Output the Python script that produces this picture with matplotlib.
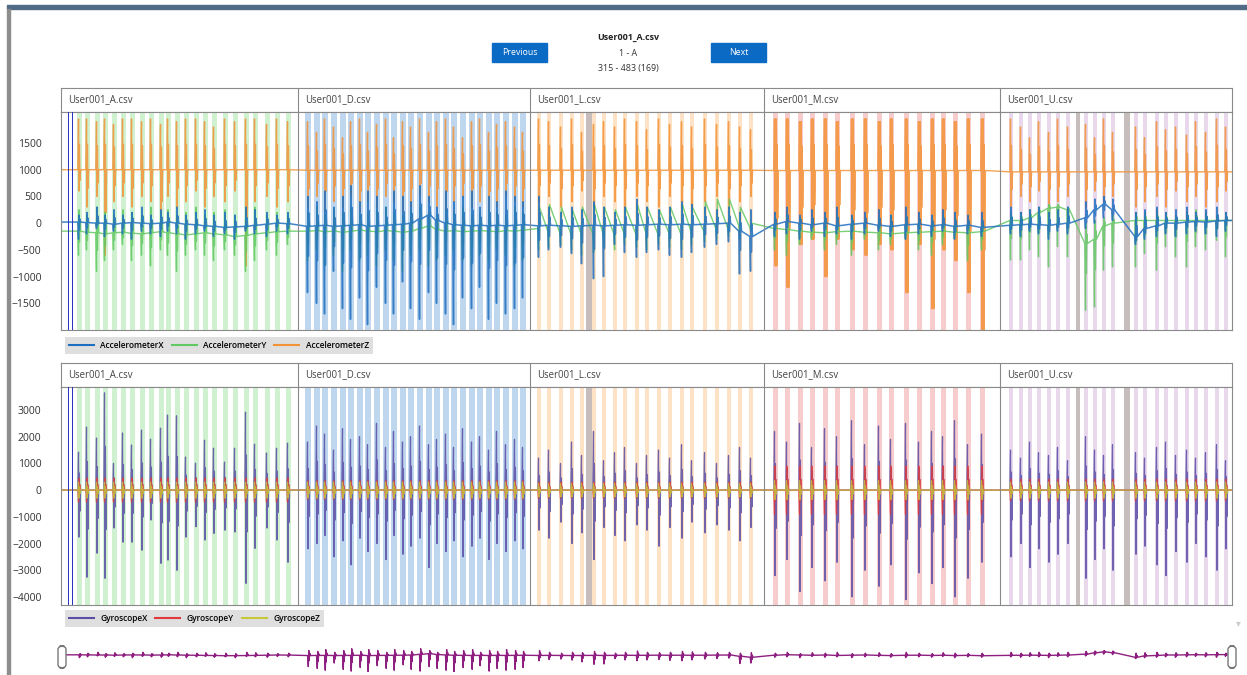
import matplotlib.pyplot as plt
from matplotlib.patches import Rectangle, FancyBboxPatch
from matplotlib.lines import Line2D

plt.rcParams['font.family'] = ['Open Sans', 'DejaVu Sans']

# files shown side by side, x in samples
FILES = ['User001_A.csv', 'User001_D.csv', 'User001_L.csv', 'User001_M.csv', 'User001_U.csv']
BOUNDS = [0, 237, 469, 703, 939, 1171]

# key press windows (centre sample) per file
POS = [
    [18, 26, 36, 44, 53, 62, 71, 81, 90, 100, 107, 116, 125, 135, 144, 153, 164, 174, 185, 194, 206, 216, 227],
    [247, 256, 264, 273, 282, 290, 299, 307, 316, 325, 333, 342, 350, 359, 368, 376, 385, 393, 402, 411, 419, 428, 436, 445, 454, 462],
    [478, 488, 500, 511, 521, 533, 543, 554, 564, 576, 586, 598, 609, 621, 631, 644, 656, 668, 679, 690],
    [714, 726, 739, 751, 764, 776, 791, 804, 818, 830, 845, 858, 871, 882, 894, 907, 921],
    [950, 960, 969, 978, 988, 997, 1007, 1025, 1034, 1043, 1052, 1075, 1084, 1096, 1105, 1115, 1126, 1135, 1145, 1156, 1165],
]
MARKED = [(6.5, 8), (10.5, 12)]            # selected rows
GREY = [(525, 531), (1015, 1019), (1063, 1069)]

# accelerometer
AZ_BASE = [1000, 990, 990, 985, 960]
AZ_HI = [
    [1950, 1950, 1900, 1950, 1850, 1950, 1950, 1900, 1950, 1850, 1950, 1900, 1950, 1950, 1900, 1800, 1950, 1900, 1950, 1950, 1850, 1950, 1900],
    [1900, 1700, 1950, 1800, 1600, 1900, 1950, 1700, 1850, 1950, 1600, 1900, 1800, 1950, 1700, 1900, 1950, 1800, 1600, 1900, 1950, 1700, 1850, 1900, 1800, 1700],
    [1950, 1900, 1800, 1950, 1700, 1850, 1900, 1800, 1950, 1900, 1750, 1950, 1850, 1900, 1800, 1950, 1850, 1900, 1800, 1750],
    [1950, 1950, 1900, 1950, 1950, 1900, 1950, 1950, 1900, 1950, 1950, 1900, 1950, 1950, 1900, 1950, 1950],
    [1950, 1800, 1600, 1900, 1700, 1950, 1800, 1850, 1600, 1950, 1700, 1800, 1600, 1900, 1750, 1800, 1650, 1900, 1700, 1950, 1800],
]
AZ_LO = [
    [600, 300, 500, -600, 400, 500, 300, 500, 400, -200, 500, 300, 400, 600, 300, 500, 400, 600, -800, 400, 500, 300, 400],
    [300, 500, 200, 400, 300, 500, 200, 400, 300, 500, 400, 200, 300, 500, 400, 300, 200, 400, 500, 300, 400, 200, 300, 500, 400, 300],
    [400, 500, 300, 400, 600, 300, 500, 400, 300, 500, 400, 300, 500, 400, 300, 400, 500, 300, 400, 500],
    [-800, -1200, -400, -300, -1000, -300, -500, -600, -400, -500, -1300, -400, -1600, -500, -700, -1300, -2000],
    [300, 500, 400, 600, 300, 400, 500, 300, 600, 400, 500, 300, 400, 500, 300, 600, 400, 500, 300, 400, 600],
]
AX_BASE = [
    [20, 10, 0, 0, -20, 0, 10, 0, -10, 0, 20, 0, -20, -30, -50, -60, -80, -70, -60, -40, -20, 0, -10],
    [-60, -50, -40, -60, -50, -40, -30, -60, -50, -40, -30, -20, 0, 80, 150, 50, 0, -30, -40, -50, -40, -50, -40, -50, -40, -30],
    [-50, -40, -50, -60, -50, -40, -50, -40, -30, -40, -30, -20, -30, -20, -30, -20, -10, 0, -150, -250],
    [-20, 30, 0, -30, 0, -50, -20, 0, -40, -60, -30, -20, -50, -30, -60, -40, -80],
    [-40, -30, -20, -30, -40, -20, 0, 100, 250, 350, 250, -250, -100, -50, 0, 0, 20, 30, 20, 40, 50],
]
AX_HI = [
    [150, 200, 300, 150, 250, 150, 200, 300, 150, 250, 200, 300, 150, 200, 250, 150, 200, 150, 300, 250, 200, 150, 200],
    [500, 400, 600, 300, 500, 700, 400, 600, 500, 300, 600, 500, 400, 700, 500, 300, 600, 400, 500, 600, 300, 500, 400, 600, 500, 400],
    [500, 300, 200, 300, 250, 400, 300, 200, 300, 450, 300, 250, 300, 400, 350, 300, 250, 300, 200, 250],
    [200, 300, 150, 250, 200, 300, 150, 200, 250, 150, 300, 200, 150, 250, 200, 150, 200],
    [300, 200, 250, 300, 200, 250, 300, 400, 450, 500, 450, 200, 250, 300, 200, 250, 300, 200, 250, 300, 200],
]
AX_LO = [
    [-300, -200, -100, -250, -150, -200, -300, -150, -200, -250, -150, -200, -300, -200, -150, -250, -200, -300, -150, -200, -250, -150, -200],
    [-1300, -1500, -1700, -900, -1600, -1800, -1400, -1900, -1200, -1500, -1700, -1100, -1600, -1800, -1300, -1500, -1700, -1900, -1400, -1600, -1200, -1800, -1500, -1700, -1600, -1400],
    [-640, -500, -450, -570, -760, -1040, -1000, -400, -550, -640, -550, -500, -600, -640, -550, -450, -400, -350, -950, -900],
    [-250, -200, -300, -150, -250, -200, -300, -200, -150, -250, -300, -200, -250, -150, -300, -200, -250],
    [-200, -250, -150, -200, -300, -150, -200, -100, 0, 100, 50, -400, -300, -250, -200, -250, -200, -150, -200, -250, -150],
]
AY_BASE = [
    [-150, -170, -180, -200, -180, -170, -190, -200, -180, -160, -180, -200, -220, -200, -180, -200, -220, -250, -230, -200, -180, -160, -150],
    [-150, -140, -160, -150, -170, -150, -130, -150, -160, -140, -150, -170, -150, -100, -50, -120, -150, -140, -160, -150, -140, -150, -160, -140, -150, -130],
    [-100, -150, -180, -200, -180, -200, -180, -200, -180, -200, -180, -200, -180, -200, -150, -150, -100, -100, -50, -80],
    [-100, -120, -150, -170, -180, -160, -150, -170, -180, -200, -180, -170, -160, -150, -170, -180, -160],
    [50, 50, 100, 200, 280, 300, 250, -380, -300, -50, 0, 50, 50, 50, 50, 50, 50, 50, 50, 50, 50],
]
AY_HI = [
    [250, 150, 300, 200, 150, 250, 200, 150, 300, 200, 250, 150, 200, 300, 150, 200, 250, 150, 200, 300, 150, 200, 150],
    [200, 300, 150, 250, 200, 300, 150, 200, 250, 300, 200, 150, 250, 300, 200, 150, 250, 200, 300, 150, 200, 250, 200, 150, 300, 200],
    [300, 350, 300, 250, 300, 350, 300, 250, 300, 350, 300, 250, 300, 350, 300, 400, 450, 450, 300, 0],
    [100, 150, 100, 50, 100, 150, 100, 50, 100, 150, 100, 50, 100, 150, 100, 50, 100],
    [200, 200, 250, 300, 350, 350, 300, 0, 50, 100, 150, 200, 200, 250, 200, 150, 200, 250, 200, 150, 200],
]
AY_LO = [
    [-600, -500, -900, -700, -500, -400, -700, -600, -800, -500, -600, -900, -600, -500, -600, -700, -500, -600, -900, -700, -500, -600, -400],
    [-700, -500, -800, -600, -900, -500, -700, -600, -800, -500, -700, -900, -600, -500, -800, -700, -600, -500, -700, -800, -600, -700, -500, -600, -800, -700],
    [-500, -450, -400, -500, -600, -550, -450, -500, -400, -450, -500, -400, -450, -500, -400, -350, -300, -250, -300, -150],
    [-500, -600, -400, -300, -500, -400, -600, -300, -500, -400, -300, -500, -600, -400, -300, -700, -500],
    [-690, -690, -500, -630, -820, -440, -630, -1630, -1570, -880, -820, -820, -570, -880, -440, -630, -820, -440, -500, -320, -630],
]

# gyroscope
GX_HI = [
    [1420, 2360, 1950, 3640, 1000, 2140, 1690, 2250, 1910, 2320, 2810, 2780, 1240, 1010, 1870, 1570, 1050, 1570, 2920, 1720, 1390, 1570, 1760],
    [1800, 2400, 2100, 1500, 2300, 1900, 2000, 1700, 2500, 1600, 2200, 1800, 2000, 2400, 1700, 1900, 2100, 1600, 2300, 1800, 2000, 1500, 2200, 1700, 1900, 1600],
    [1200, 1500, 1000, 1800, 1300, 2200, 1100, 1400, 1600, 1000, 1300, 1500, 1200, 1700, 1100, 1400, 1000, 1300, 1600, 1200],
    [2200, 1800, 2500, 1600, 2300, 2000, 2600, 1700, 2400, 1900, 2500, 1800, 2200, 2000, 2600, 1700, 2100],
    [1500, 1200, 1800, 1400, 1300, 1600, 1100, 2000, 1500, 1300, 1700, 1400, 1200, 1600, 1800, 1300, 1500, 1200, 1400, 1700, 1100],
]
GX_LO = [
    [-1760, -3260, -2360, -3300, -1420, -1950, -1950, -2250, -1120, -2740, -2620, -3000, -1760, -1370, -1870, -1620, -1500, -1570, -3490, -2180, -1420, -1870, -2700],
    [-2200, -2000, -1700, -2500, -1900, -2800, -1800, -2300, -2000, -2600, -1700, -2400, -2100, -1800, -2900, -2000, -2300, -1900, -2500, -2100, -1800, -2600, -2000, -2300, -1900, -2200],
    [-1500, -1800, -1200, -2000, -1600, -2600, -1400, -1700, -1900, -1300, -1500, -2100, -1400, -1800, -1200, -1600, -1300, -1500, -1900, -1400],
    [-3200, -2600, -3800, -2900, -3400, -2700, -4000, -3000, -3600, -2800, -4100, -3100, -3500, -2900, -4000, -3300, -2700],
    [-2500, -2000, -2900, -2200, -2700, -2400, -2000, -3300, -2600, -2200, -3000, -2400, -2100, -2800, -3200, -2300, -2700, -2000, -2500, -3000, -2200],
]
GY_AMP = [450, 350, 300, 900, 400]
GZ_AMP = [300, 300, 250, 350, 300]

STRIPE_W = [5, 6.5, 4.5, 5, 4.5]
STRIPE_C = ['#cff1cf', '#bed7ee', '#fde2c6', '#f6cccc', '#e9d8ec']


def per(v, k, i):
    return v[k][i] if isinstance(v[k], list) else v[k]


def trace(base, first, second, ring=0.45, saw_seg=None, cycles=(1, 1, 1, 1, 1)):
    xs, ys = [BOUNDS[0]], [per(base, 0, 0)]
    for k, seg in enumerate(POS):
        for i, p in enumerate(seg):
            b = per(base, k, i)
            f = per(first, k, i)
            s = per(second, k, i)
            if k == saw_seg:
                xs += [p - 1.2, p - 0.4, p + 0.4]
                ys += [b, f, s]
                continue
            xs.append(p - 1.2)
            ys.append(b)
            t = p - 0.5
            for c in range(cycles[k]):
                xs += [t, t + 0.5]
                ys += [f, s]
                t += 0.9
            xs += [t, t + 0.5, t + 1.2]
            ys += [b + (f - b) * ring, b + (s - b) * ring, b]
    xs.append(BOUNDS[-1])
    ys.append(ys[-1])
    return xs, ys


W, H = 1247, 675
fig = plt.figure(figsize=(W / 100, H / 100), dpi=100)


def box(x0, y0, x1, y1):
    return [x0 / W, 1 - y1 / H, (x1 - x0) / W, (y1 - y0) / H]


# page frame
fig.add_artist(Rectangle((7 / W, 1 - 9 / H), 1 - 7 / W, 4 / H, transform=fig.transFigure, color='#4f6b86'))
fig.add_artist(Rectangle((7 / W, 0), 3 / W, 1 - 9 / H, transform=fig.transFigure, color='#8d8d8d'))

# title and buttons
fig.text(628 / W, 1 - 38 / H, 'User001_A.csv', ha='center', va='center', fontsize=6.4, weight='bold', color='#222')
fig.text(628 / W, 1 - 53 / H, '1 - A', ha='center', va='center', fontsize=6.4, color='#333')
fig.text(628 / W, 1 - 68 / H, '315 - 483 (169)', ha='center', va='center', fontsize=6.4, color='#333')
for x0, label in [(492, 'Previous'), (711, 'Next')]:
    fig.add_artist(Rectangle((x0 / W, 1 - 62 / H), 55 / W, 19 / H, transform=fig.transFigure, color='#0b6bc4'))
    fig.text((x0 + 27.5) / W, 1 - 52.5 / H, label, ha='center', va='center', fontsize=6.3, color='white')

GRID = '#8a8a8a'


def header(rect):
    ax = fig.add_axes(rect)
    ax.set_xlim(BOUNDS[0], BOUNDS[-1])
    ax.set_ylim(0, 1)
    ax.set_xticks([])
    ax.set_yticks([])
    for sp in ax.spines.values():
        sp.set_color(GRID)
        sp.set_linewidth(0.8)
    for k, name in enumerate(FILES):
        if k:
            ax.axvline(BOUNDS[k], color=GRID, lw=0.8)
        ax.text(BOUNDS[k] + 7, 0.5, name, va='center', fontsize=6.9, color='#444')
    return ax


def panel(rect, ylim, ticks):
    ax = fig.add_axes(rect)
    ax.set_xlim(BOUNDS[0], BOUNDS[-1])
    ax.set_ylim(*ylim)
    ax.set_xticks([])
    ax.set_yticks(ticks)
    ax.tick_params(axis='y', length=0, pad=14, labelsize=7.5, labelcolor='#333')
    for sp in ax.spines.values():
        sp.set_color(GRID)
        sp.set_linewidth(0.8)
    for k, seg in enumerate(POS):
        for p in seg:
            ax.axvspan(p - STRIPE_W[k] / 2, p + STRIPE_W[k] / 2, color=STRIPE_C[k], lw=0, zorder=0)
    for a, b in GREY:
        ax.axvspan(a, b, color='#a89a98', alpha=0.65, lw=0, zorder=0.5)
    for a, b in MARKED:
        ax.axvspan(a, b, color='#2a35c0', lw=0, zorder=3)
    for x in BOUNDS[1:-1]:
        ax.axvline(x, color=GRID, lw=0.8, zorder=4)
    return ax


header(box(61, 88, 1232, 112))
ax1 = panel(box(61, 112, 1232, 330), (-2000, 2080), [-1500, -1000, -500, 0, 500, 1000, 1500])
header(box(61, 363, 1232, 387))
ax2 = panel(box(61, 387, 1232, 605), (-4300, 3860), [-4000, -3000, -2000, -1000, 0, 1000, 2000, 3000])

C_AX, C_AY, C_AZ = '#1f6fc0', '#62c862', '#f39237'
C_GX, C_GY, C_GZ = '#5a4ea6', '#e03a3a', '#c6c83a'

az = trace(AZ_BASE, AZ_HI, AZ_LO, ring=0.5, cycles=(1, 1, 1, 3, 1))
ay = trace(AY_BASE, AY_LO, AY_HI, saw_seg=2)
ax_ = trace(AX_BASE, AX_LO, AX_HI)
ax1.plot(*az, color=C_AZ, lw=1.0, alpha=0.85, zorder=1)
ax1.plot(*ay, color=C_AY, lw=1.0, alpha=0.85, zorder=1.5)
ax1.plot(*ax_, color=C_AX, lw=1.1, alpha=0.85, zorder=2)

neg = lambda v: [-a for a in v]
gx = trace([0] * 5, GX_HI, GX_LO)
gy = trace([0] * 5, neg(GY_AMP), GY_AMP)
gz = trace([0] * 5, GZ_AMP, neg(GZ_AMP))
ax2.plot(*gx, color=C_GX, lw=0.9, alpha=0.85, zorder=1)
ax2.plot(*gy, color=C_GY, lw=0.9, alpha=0.8, zorder=1.5)
ax2.plot(*gz, color=C_GZ, lw=0.9, alpha=0.8, zorder=2)

leg_kw = dict(loc='upper left', ncol=3, frameon=True, facecolor='#d8d8d8', edgecolor='none',
              handlelength=3.0, columnspacing=0.9, borderpad=0.45, handletextpad=0.8, borderaxespad=0,
              fancybox=False, prop={'weight': 'semibold', 'size': 6})
l1 = fig.legend([Line2D([], [], color=c, lw=1.5) for c in (C_AX, C_AY, C_AZ)],
                ['AccelerometerX', 'AccelerometerY', 'AccelerometerZ'],
                bbox_to_anchor=(65 / W, 1 - 337 / H), **leg_kw)
l2 = fig.legend([Line2D([], [], color=c, lw=1.5) for c in (C_GX, C_GY, C_GZ)],
                ['GyroscopeX', 'GyroscopeY', 'GyroscopeZ'],
                bbox_to_anchor=(65 / W, 1 - 610 / H), **leg_kw)

# overview strip
nav = fig.add_axes(box(62, 638, 1232, 672))
nav.set_xlim(BOUNDS[0], BOUNDS[-1])
nav.set_ylim(-1900, 1900)
nav.axis('off')
nav.plot(*ax_, color='#8e1f80', lw=1.0)
for x0 in (58, 1228):
    fig.add_artist(FancyBboxPatch((x0 / W, 1 - 668 / H), 8 / W, 22 / H, boxstyle='round,pad=0,rounding_size=0.005',
                                  transform=fig.transFigure, facecolor='white', edgecolor='#777', lw=1))
fig.text(1238 / W, 1 - 624 / H, '\u25be', ha='center', va='center', fontsize=7, color='#cccccc')

fig.savefig('out.png', dpi=100)
